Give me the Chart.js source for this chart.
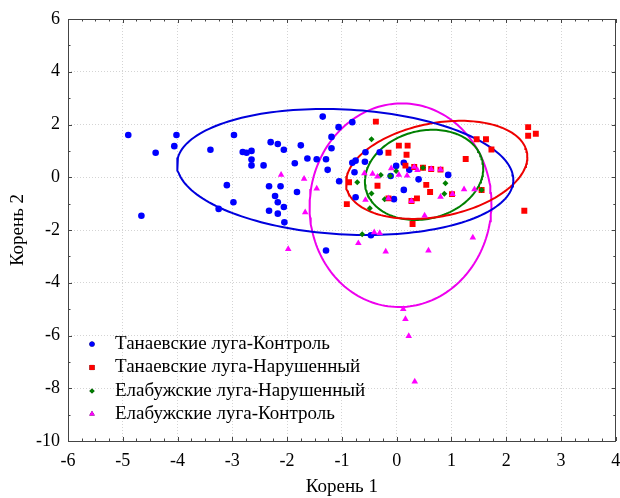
<!DOCTYPE html>
<html><head><meta charset="utf-8">
<script src="https://cdn.jsdelivr.net/npm/chart.js@4/dist/chart.umd.min.js"></script>
<style>html,body{margin:0;padding:0;background:#fff}canvas{display:block}</style>
</head><body>
<canvas id="c" width="620" height="498"></canvas>
<script>
const seriesNames = ['Танаевские луга-Контроль','Танаевские луга-Нарушенный','Елабужские луга-Нарушенный','Елабужские луга-Контроль'];
const seriesColors = ['#0000ff','#ff0000','#008000','#ff00ff'];
const ellipseColors = ['#0000dd','#ee0000','#008000','#ee00ee'];
const xTickLabels = [-6,-5,-4,-3,-2,-1,0,1,2,3,4];
const yTickLabels = [-10,-8,-6,-4,-2,0,2,4,6];
const xTitle = 'Корень 1';
const yTitle = 'Корень 2';

// Танаевские луга-Контроль
const tkX = [-4.90,-4.02,-4.40,-4.06,-4.66,-3.40,-2.97,-2.81,-2.74,-2.65,-2.65,-2.65,-2.43,-2.30,-2.17,-2.06,-1.75,-1.86,-1.63,-3.10,-2.98,-3.25,-2.33,-2.12,-2.22,-1.82,-2.17,-2.06,-2.33,-2.17,-2.05,-1.35,-1.06,-0.81,-1.19,-1.19,-1.46,-1.29,-1.26,-1.05,-1.29,-0.81,-0.75,-0.58,-0.77,-0.57,-0.31,-0.75,-0.01,0.13,-0.11,0.23,0.40,0.13,-0.05,0.94,-0.47];
const tkY = [1.60,1.60,0.93,1.18,-1.46,1.04,1.60,0.96,0.93,1.00,0.67,0.45,0.45,1.33,1.26,1.04,1.21,0.53,0.71,-0.30,-0.95,-1.20,-0.34,-0.34,-0.71,-0.56,-0.95,-1.13,-1.27,-1.38,-1.71,2.30,1.90,2.09,1.53,1.10,0.68,0.68,0.28,-0.15,-2.78,0.55,0.63,0.59,0.19,0.95,0.95,-0.76,0.43,0.55,0.05,0.28,-0.08,-0.48,-0.83,0.09,-2.20];
// Танаевские луга-Нарушенный
const tnX = [-0.38,0.04,0.20,-0.15,0.18,0.16,0.32,0.48,0.63,0.80,1.26,1.46,1.63,1.73,2.40,2.40,2.54,2.33,-0.87,-0.35,0.54,0.61,-0.91,-0.15,0.27,0.37,1.01,1.55,0.29];
const tnY = [2.11,1.20,1.20,0.93,0.85,0.44,0.39,0.36,0.31,0.29,0.69,1.44,1.44,1.05,1.90,1.57,1.65,-1.27,-0.19,-0.32,-0.29,-0.56,-1.02,-0.80,-0.90,-0.80,-0.64,-0.48,-1.77];
// Елабужские луга-Нарушенный
const enX = [-0.46,-0.29,-0.12,-0.01,-0.72,-0.46,-0.49,-0.22,0.48,0.89,0.87,1.55,-0.63];
const enY = [1.44,0.09,0.05,0.24,-0.19,-0.62,-1.18,-0.83,0.36,-0.23,-0.63,-0.48,-2.16];
// Елабужские луга-Контроль
const ekX = [-2.11,-1.69,-1.46,-1.67,-1.98,-0.59,-0.44,-0.35,-0.10,0.04,0.19,0.38,0.32,0.63,0.80,-0.57,-0.15,0.27,0.80,1.02,1.23,1.42,0.51,-0.41,-0.31,-0.70,-0.20,0.58,1.39,0.12,0.16,0.22,0.33];
const ekY = [0.09,-0.06,-0.43,-1.33,-2.72,0.15,0.13,0.02,0.34,0.09,0.06,0.27,0.39,0.31,0.29,-0.86,-0.80,-0.90,-0.74,-0.64,-0.46,-0.46,-1.45,-2.09,-2.12,-2.50,-2.82,-2.78,-2.29,-5.00,-5.38,-6.02,-7.75];

// ellipse parameters per series: centre, half-width, half-height, y-offset at rightmost point
const ellCX = [-0.94, 0.73, 0.50, 0.07];
const ellCY = [0.20, 0.28, 0.09, -1.06];
const ellWX = [3.07, 1.655, 1.08, 1.66];
const ellWY = [2.39, 1.86, 1.71, 3.86];
const ellDY = [-0.30, 0.49, 0.25, 0.06];

const pointStyles = ['circle','rect','rectRot','triangle'];
const pointRadii = [3.3, 4.2, 3.0, 3.8];
const legendRadii = [2.6, 3.6, 2.6, 3.2];

const FONT = "'Liberation Serif','Times New Roman',serif";

function zip(xs, ys){ return xs.map((x,i)=>({x:x, y:ys[i]})); }
function ellipsePts(i){
  const pts = [];
  const b = Math.sqrt(ellWY[i]*ellWY[i] - ellDY[i]*ellDY[i]);
  for (let k=0;k<=180;k++){
    const t = k/180*2*Math.PI;
    pts.push({x: ellCX[i] + ellWX[i]*Math.cos(t), y: ellCY[i] + ellDY[i]*Math.cos(t) + b*Math.sin(t)});
  }
  return pts;
}

const pointSets = [zip(tkX,tkY), zip(tnX,tnY), zip(enX,enY), zip(ekX,ekY)];
const datasets = [];
for (let i=0;i<4;i++){
  datasets.push({
    label: seriesNames[i] + ' (эллипс)',
    data: ellipsePts(i),
    showLine: true, fill: false,
    borderColor: ellipseColors[i], borderWidth: 2,
    pointRadius: 0, pointHoverRadius: 0,
    tension: 0, order: 10
  });
}
for (let i=0;i<4;i++){
  datasets.push({
    label: seriesNames[i],
    data: pointSets[i],
    showLine: false,
    pointStyle: pointStyles[i],
    pointRadius: pointRadii[i],
    backgroundColor: seriesColors[i],
    borderColor: seriesColors[i],
    borderWidth: 0,
    order: 4 - i
  });
}

const decor = {
  id: 'decor',
  afterDraw(chart){
    const ctx = chart.ctx, a = chart.chartArea;
    const xs = chart.scales.x, ys = chart.scales.y;
    ctx.save();
    ctx.strokeStyle = '#444';
    ctx.lineWidth = 1;
    ctx.strokeRect(Math.round(a.left)+0.5, Math.round(a.top)+0.5, Math.round(a.right-a.left)-1, Math.round(a.bottom-a.top));
    ctx.beginPath();
    for (let v = xTickLabels[0]; v <= xTickLabels[xTickLabels.length-1] + 1e-9; v += 0.25){
      const px = Math.round(xs.getPixelForValue(v)) + 0.5;
      const major = Math.abs(v - Math.round(v)) < 1e-6;
      const L = major ? 4 : 2.5;
      ctx.moveTo(px, a.bottom); ctx.lineTo(px, a.bottom - L);
      ctx.moveTo(px, a.top); ctx.lineTo(px, a.top + L);
    }
    for (let v = yTickLabels[0]; v <= yTickLabels[yTickLabels.length-1] + 1e-9; v += 1){
      const py = Math.round(ys.getPixelForValue(v)) + 0.5;
      const major = (v % 2 === 0);
      const L = major ? 4 : 2.5;
      ctx.moveTo(a.left, py); ctx.lineTo(a.left + L, py);
      ctx.moveTo(a.right, py); ctx.lineTo(a.right - L, py);
    }
    ctx.stroke();
    // legend
    const lx = 92, tx = 115, rows = [344, 367.5, 391, 414];
    ctx.font = '19px ' + FONT;
    ctx.textBaseline = 'middle';
    ctx.textAlign = 'left';
    for (let i=0;i<4;i++){
      Chart.helpers.drawPoint(ctx, {pointStyle: pointStyles[i], radius: legendRadii[i], rotation: 0, borderWidth: 0}, lx, rows[i]);
      ctx.fillStyle = seriesColors[i];
      ctx.fill();
      ctx.fillStyle = '#000';
      ctx.fillText(seriesNames[i], tx, rows[i]);
    }
    ctx.restore();
  }
};

new Chart(document.getElementById('c'), {
  type: 'scatter',
  data: { datasets: datasets },
  plugins: [decor],
  options: {
    responsive: false, animation: false, devicePixelRatio: 1,
    layout: { padding: { top: 19, right: 3, left: 0, bottom: 0 } },
    plugins: { legend: { display: false }, tooltip: { enabled: false } },
    scales: {
      x: {
        type: 'linear', min: xTickLabels[0], max: xTickLabels[xTickLabels.length-1],
        afterBuildTicks: (s) => { s.ticks = xTickLabels.map(v => ({value: v})); },
        afterFit: (s) => { s.height = 57; s.paddingRight = 0; s.paddingLeft = 0; },
        grid: { color: '#d4d4d4', lineWidth: 1, drawTicks: false },
        border: { display: false, dash: [1, 2] },
        ticks: { color: '#000', font: { family: FONT, size: 18 }, padding: 9, maxRotation: 0, autoSkip: false },
        title: { display: true, text: xTitle, color: '#000', font: { family: FONT, size: 19 }, padding: { top: 0, bottom: 0 } }
      },
      y: {
        type: 'linear', min: yTickLabels[0], max: yTickLabels[yTickLabels.length-1],
        afterBuildTicks: (s) => { s.ticks = yTickLabels.map(v => ({value: v})); },
        afterFit: (s) => { s.width = 68; s.paddingTop = 0; s.paddingBottom = 0; },
        grid: { color: '#d4d4d4', lineWidth: 1, drawTicks: false },
        border: { display: false, dash: [1, 2] },
        ticks: { color: '#000', font: { family: FONT, size: 18 }, padding: 8, autoSkip: false },
        title: { display: true, text: yTitle, color: '#000', font: { family: FONT, size: 19 }, padding: { top: 7, bottom: 0 } }
      }
    }
  }
});
</script>
</body></html>
